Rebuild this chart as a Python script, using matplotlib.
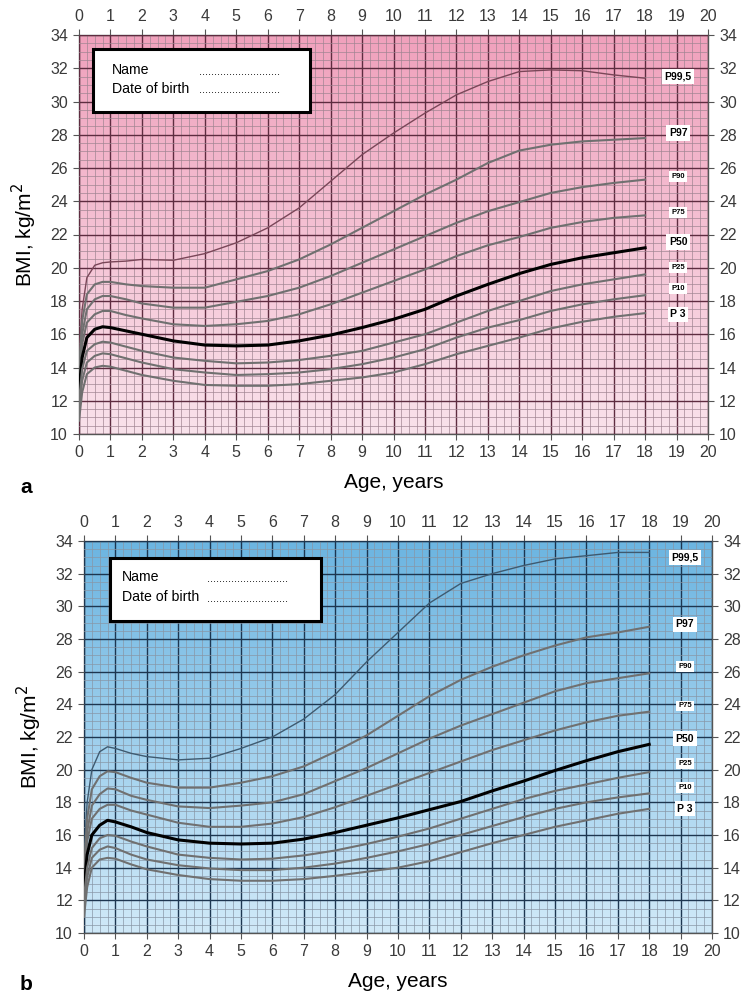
import numpy as np
import matplotlib
matplotlib.use('Agg')
import matplotlib.pyplot as plt
from matplotlib.colors import LinearSegmentedColormap
from matplotlib.patches import Rectangle
from matplotlib.ticker import MultipleLocator

plt.rcParams['font.family'] = ['Liberation Sans', 'DejaVu Sans']

# ages in years
ages = [0, 0.1, 0.25, 0.5, 0.75, 1, 1.5, 2, 3, 4, 5, 6, 7, 8, 9, 10, 11, 12, 13, 14, 15, 16, 17, 18]
percentiles = ['P99,5', 'P97', 'P90', 'P75', 'P50', 'P25', 'P10', 'P 3']

# panel a (pink)
a_p995 = [14.5, 17.5, 19.4, 20.15, 20.3, 20.35, 20.4, 20.5, 20.45, 20.85, 21.5, 22.4, 23.6, 25.2, 26.8, 28.1, 29.3, 30.4, 31.2, 31.8, 31.9, 31.85, 31.6, 31.4]
a_p97 = [14.0, 16.8, 18.4, 19.0, 19.15, 19.15, 19.0, 18.9, 18.8, 18.8, 19.3, 19.8, 20.5, 21.4, 22.4, 23.4, 24.4, 25.3, 26.3, 27.05, 27.4, 27.6, 27.7, 27.8]
a_p90 = [13.6, 16.0, 17.5, 18.1, 18.3, 18.3, 18.1, 17.85, 17.6, 17.6, 17.95, 18.3, 18.8, 19.5, 20.3, 21.1, 21.9, 22.7, 23.4, 23.95, 24.5, 24.85, 25.1, 25.3]
a_p75 = [13.1, 15.4, 16.7, 17.2, 17.4, 17.4, 17.15, 16.95, 16.6, 16.5, 16.6, 16.8, 17.2, 17.8, 18.5, 19.2, 19.9, 20.7, 21.35, 21.85, 22.4, 22.75, 23.0, 23.15]
a_p50 = [12.6, 14.6, 15.8, 16.3, 16.45, 16.4, 16.2, 16.0, 15.6, 15.35, 15.3, 15.35, 15.6, 15.95, 16.4, 16.9, 17.5, 18.3, 19.0, 19.65, 20.2, 20.6, 20.9, 21.2]
a_p25 = [12.0, 13.9, 15.0, 15.4, 15.55, 15.5, 15.25, 15.0, 14.6, 14.4, 14.25, 14.3, 14.45, 14.7, 15.0, 15.5, 16.0, 16.7, 17.4, 18.0, 18.6, 19.0, 19.3, 19.6]
a_p10 = [11.4, 13.2, 14.3, 14.7, 14.85, 14.8, 14.55, 14.3, 13.9, 13.7, 13.55, 13.6, 13.7, 13.9, 14.2, 14.6, 15.1, 15.8, 16.4, 16.85, 17.4, 17.8, 18.1, 18.35]
a_p3 = [10.8, 12.5, 13.6, 14.0, 14.1, 14.05, 13.8, 13.55, 13.2, 12.95, 12.9, 12.9, 13.0, 13.2, 13.4, 13.7, 14.2, 14.8, 15.3, 15.8, 16.35, 16.75, 17.05, 17.27]
a_label_y = [31.5, 28.1, 25.5, 23.3, 21.55, 20.0, 18.75, 17.2]

# panel b (blue)
b_p995 = [14.5, 18.0, 20.0, 21.1, 21.4, 21.3, 21.0, 20.8, 20.6, 20.7, 21.3, 22.0, 23.1, 24.6, 26.6, 28.4, 30.2, 31.4, 32.0, 32.5, 32.9, 33.1, 33.3, 33.3]
b_p97 = [14.0, 17.0, 18.8, 19.6, 19.9, 19.85, 19.5, 19.2, 18.9, 18.9, 19.2, 19.6, 20.2, 21.1, 22.1, 23.3, 24.5, 25.5, 26.3, 27.0, 27.6, 28.1, 28.4, 28.75]
b_p90 = [13.6, 16.2, 17.8, 18.5, 18.85, 18.8, 18.4, 18.15, 17.75, 17.65, 17.8, 18.0, 18.5, 19.3, 20.1, 21.0, 21.9, 22.7, 23.4, 24.1, 24.8, 25.3, 25.6, 25.9]
b_p75 = [13.2, 15.6, 17.0, 17.6, 17.85, 17.85, 17.5, 17.25, 16.75, 16.5, 16.5, 16.7, 17.1, 17.7, 18.4, 19.1, 19.8, 20.5, 21.2, 21.8, 22.4, 22.9, 23.3, 23.55]
b_p50 = [12.7, 14.8, 16.0, 16.6, 16.9, 16.8, 16.5, 16.15, 15.7, 15.5, 15.45, 15.5, 15.75, 16.15, 16.6, 17.05, 17.55, 18.05, 18.7, 19.3, 19.95, 20.55, 21.1, 21.55]
b_p25 = [12.2, 14.0, 15.2, 15.8, 16.0, 15.95, 15.6, 15.3, 14.8, 14.6, 14.5, 14.55, 14.75, 15.05, 15.45, 15.9, 16.4, 17.0, 17.6, 18.2, 18.7, 19.1, 19.5, 19.85]
b_p10 = [11.7, 13.4, 14.6, 15.1, 15.3, 15.2, 14.8, 14.5, 14.15, 13.95, 13.85, 13.85, 14.0, 14.25, 14.6, 15.0, 15.45, 16.0, 16.55, 17.1, 17.6, 18.0, 18.3, 18.55]
b_p3 = [11.0, 12.8, 14.0, 14.5, 14.6, 14.55, 14.2, 13.9, 13.55, 13.3, 13.2, 13.2, 13.3, 13.5, 13.75, 14.0, 14.4, 14.95, 15.5, 16.0, 16.5, 16.9, 17.3, 17.6]
b_label_y = [33.0, 28.9, 26.3, 23.9, 21.9, 20.4, 18.9, 17.6]

a_curves = [a_p995, a_p97, a_p90, a_p75, a_p50, a_p25, a_p10, a_p3]
b_curves = [b_p995, b_p97, b_p90, b_p75, b_p50, b_p25, b_p10, b_p3]

fig = plt.figure(figsize=(7.46, 10.01), dpi=100)
ax_a = fig.add_axes([79/746, 1-434/1001, 629/746, 399/1001])
ax_b = fig.add_axes([84/746, 1-933/1001, 628/746, 392/1001])

DOTS = '.' * 27


def draw_panel(ax, curves, label_y, top_col, bot_col, major_col, minor_col, top_line_col, label_x, box):
    cmap = LinearSegmentedColormap.from_list('bg', [bot_col, top_col])
    grad = np.linspace(0, 1, 256).reshape(-1, 1)
    ax.imshow(grad, cmap=cmap, origin='lower', extent=[0, 20, 10, 34], aspect='auto', zorder=0)
    ax.set_xlim(0, 20)
    ax.set_ylim(10, 34)

    ax.xaxis.set_major_locator(MultipleLocator(1))
    ax.xaxis.set_minor_locator(MultipleLocator(0.25))
    ax.yaxis.set_major_locator(MultipleLocator(2))
    ax.yaxis.set_minor_locator(MultipleLocator(0.5))
    ax.grid(which='minor', color=minor_col, lw=0.7, alpha=0.7, zorder=1)
    ax.grid(which='major', color=major_col, lw=1.0, zorder=1)
    ax.set_axisbelow(False)

    ax.tick_params(which='major', direction='out', length=4, color='#555555', labelsize=11.5,
                   labelcolor='#3a3a3a', top=True, right=True, labeltop=True, labelright=True, pad=4)
    ax.tick_params(which='minor', length=0)
    for s in ax.spines.values():
        s.set_color('#555555')
        s.set_linewidth(1.0)

    for i, (name, vals) in enumerate(zip(percentiles, curves)):
        if name == 'P50':
            ax.plot(ages, vals, color='black', lw=2.2, zorder=3)
        elif name == 'P99,5':
            ax.plot(ages, vals, color=top_line_col, lw=1.0, zorder=3)
        else:
            ax.plot(ages, vals, color='#707070', lw=1.5, zorder=3)
        small = name in ('P90', 'P75', 'P25', 'P10')
        ax.text(label_x, label_y[i], name, fontsize=5.5 if small else 7.5, fontweight='bold',
                ha='center', va='center', zorder=4,
                bbox=dict(boxstyle='square,pad=0.25', fc='white', ec='none'))

    x0, y0, x1, y1 = box
    ax.add_patch(Rectangle((x0, y0), x1 - x0, y1 - y0, transform=ax.transAxes,
                           fc='white', ec='black', lw=2.2, zorder=5))
    ax.set_xlabel('Age, years', fontsize=15, labelpad=9)
    ax.set_ylabel('BMI, kg/m$^2$', fontsize=15, labelpad=8)


draw_panel(ax_a, a_curves, a_label_y, '#f0a1bc', '#f9e2eb', '#5e2c40', '#a08592', '#7a4658', 19.05,
           (0.0225, 0.807, 0.367, 0.965))
ax_a.text(0.052, 0.912, 'Name', transform=ax_a.transAxes, fontsize=10.2, va='center', zorder=6)
ax_a.text(0.052, 0.865, 'Date of birth', transform=ax_a.transAxes, fontsize=10.2, va='center', zorder=6)
ax_a.text(0.19, 0.908, DOTS, transform=ax_a.transAxes, fontsize=8, va='center', zorder=6)
ax_a.text(0.19, 0.861, DOTS, transform=ax_a.transAxes, fontsize=8, va='center', zorder=6)

draw_panel(ax_b, b_curves, b_label_y, '#6cb5e1', '#d0e9f8', '#1d3650', '#8896a6', '#3e5a70', 19.14,
           (0.0415, 0.796, 0.3775, 0.957))
ax_b.text(0.0605, 0.908, 'Name', transform=ax_b.transAxes, fontsize=10.2, va='center', zorder=6)
ax_b.text(0.0605, 0.857, 'Date of birth', transform=ax_b.transAxes, fontsize=10.2, va='center', zorder=6)
ax_b.text(0.196, 0.904, DOTS, transform=ax_b.transAxes, fontsize=8, va='center', zorder=6)
ax_b.text(0.196, 0.853, DOTS, transform=ax_b.transAxes, fontsize=8, va='center', zorder=6)

fig.text(20/746, 1-488/1001, 'a', fontsize=15, fontweight='bold', va='center')
fig.text(20/746, 1-985/1001, 'b', fontsize=15, fontweight='bold', va='center')

fig.savefig('out.png', dpi=100)
